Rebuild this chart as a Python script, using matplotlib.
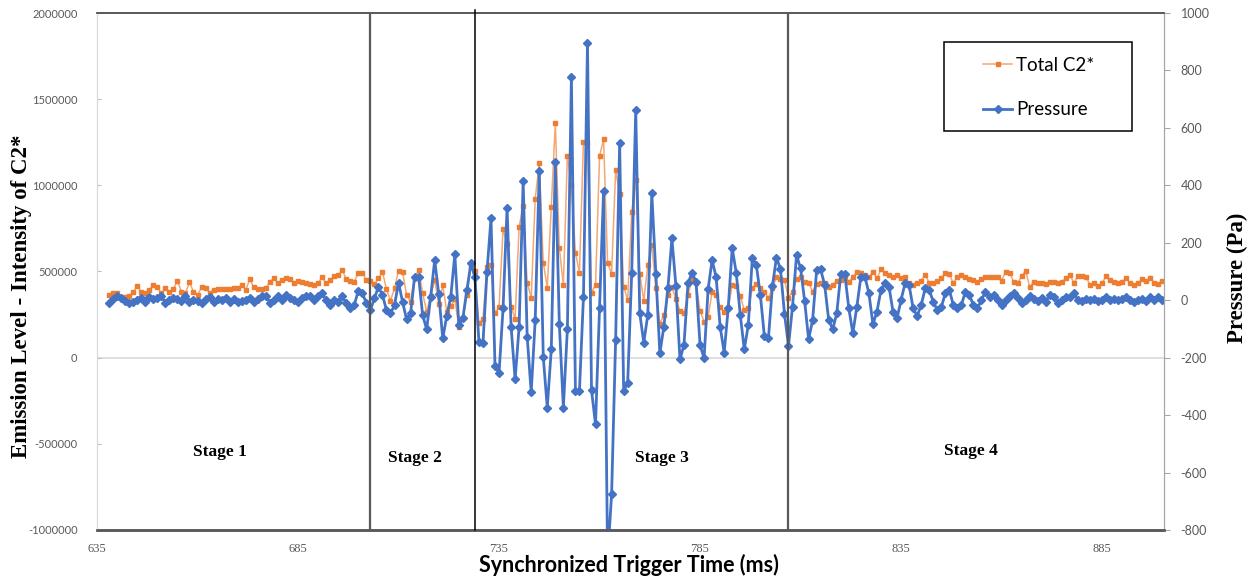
import numpy as np
import matplotlib
matplotlib.use("Agg")
import matplotlib.pyplot as plt
from matplotlib.lines import Line2D
from matplotlib.patches import Rectangle

# ---------------------------
# Datos (1 muestra por ms, desde 638 ms)
# ---------------------------
t_start = 638

c2_total = [
    364000, 374000, 377000, 354000, 354000, 358000, 383000, 416000, 383000, 374000,
    393000, 422000, 412000, 374000, 403000, 383000, 397000, 447000, 383000, 374000,
    437000, 383000, 364000, 408000, 403000, 377000, 393000, 397000, 397000, 397000,
    397000, 403000, 403000, 422000, 393000, 455000, 408000, 397000, 397000, 403000,
    441000, 461000, 432000, 451000, 461000, 455000, 435000, 447000, 441000, 432000,
    428000, 422000, 432000, 466000, 432000, 451000, 474000, 480000, 509000, 455000,
    447000, 441000, 490000, 493000, 451000, 446000, 425000, 460000, 499000, 396000,
    331000, 402000, 505000, 499000, 364000, 325000, 460000, 509000, 373000, 267000,
    358000, 451000, 311000, 420000, 267000, 300000, 338000, 180000, 228000, 364000,
    528000, 500000, 199000, 223000, 524000, 538000, 257000, 292000, 745000, 660000,
    296000, 227000, 760000, 880000, 435000, 348000, 923000, 1128000, 551000, 406000,
    876000, 1364000, 635000, 422000, 1170000, 1000000, 610000, 493000, 1253000, 1248000,
    377000, 422000, 1170000, 1267000, 551000, 486000, 1089000, 950000, 412000, 335000,
    845000, 1031000, 488000, 331000, 538000, 654000, 403000, 196000, 248000, 364000,
    408000, 339000, 273000, 257000, 364000, 455000, 431000, 273000, 209000, 234000,
    383000, 364000, 292000, 267000, 286000, 422000, 416000, 358000, 277000, 286000,
    403000, 428000, 403000, 383000, 345000, 403000, 466000, 457000, 449000, 349000,
    383000, 455000, 470000, 441000, 435000, 383000, 427000, 435000, 431000, 412000,
    422000, 447000, 451000, 460000, 441000, 466000, 499000, 489000, 480000, 466000,
    499000, 460000, 512000, 489000, 480000, 470000, 480000, 460000, 470000, 431000,
    422000, 431000, 447000, 480000, 435000, 431000, 447000, 460000, 493000, 485000,
    431000, 470000, 480000, 466000, 454000, 451000, 441000, 454000, 466000, 470000,
    470000, 466000, 447000, 499000, 493000, 441000, 432000, 474000, 505000, 408000,
    441000, 432000, 435000, 428000, 441000, 437000, 435000, 441000, 461000, 480000,
    432000, 474000, 474000, 470000, 422000, 435000, 416000, 432000, 474000, 451000,
    441000, 435000, 441000, 461000, 432000, 422000, 435000, 455000, 447000, 461000,
    435000, 428000, 447000,
]

pressure = [
    -8, 3, 13, 7, -1, -8, -5, 1, 7, -5,
    10, 3, 8, 13, -8, 1, 7, 3, -1, 13,
    -5, 1, -3, -8, 3, 10, -5, 4, 1, 7,
    -5, 3, -5, -1, 1, 7, -5, 3, 13, 15,
    -8, 1, 13, 1, 18, 7, 1, -5, 7, 15,
    13, 1, 13, 24, 1, -16, 1, -5, 13, -10,
    -28, -16, 33, 24, -10, -34, 6, 47, 18, -34,
    -46, -17, 61, -5, -67, -46, 82, 82, -52, -101,
    12, 140, 22, -133, -55, 12, 160, -86, -63, 35,
    128, 80, -144, -150, 99, 285, -229, -255, -28, 322,
    -92, -276, -92, 415, -127, -321, -69, 449, -197, -374,
    -170, 480, -84, -374, -100, 778, -315, -315, 12, 897,
    -313, -432, -28, 380, -900, -676, -139, 548, -316, -287,
    94, 662, -45, -148, -51, 372, 90, -185, -92, 41,
    215, 49, -206, -156, 59, 96, 65, -156, -202, 38,
    140, 80, -92, -183, -28, 181, 96, -51, -171, -86,
    148, 122, 18, -125, -133, 49, 148, 109, -47, -159,
    -22, 157, 111, -1, -136, -69, 105, 107, 53, -69,
    -101, -46, 91, 91, -28, -115, -23, 82, 82, 24,
    -83, -40, 36, 59, 47, -40, -63, 1, 59, 53,
    -28, -55, -17, 41, 36, -5, -34, -25, 24, 36,
    -17, -28, -17, 30, 18, -17, -28, 1, 30, 12,
    18, 1, -16, 1, 15, 24, 7, -8, 1, 15,
    3, -1, 7, -5, 18, 12, -8, 1, 12, 12,
    24, 1, -1, 3, 1, 3, -1, 1, 10, 1,
    3, 1, 3, 12, 1, -5, 1, 3, -1, 12,
    1, 10, 1,
]

time_ms = np.arange(t_start, t_start + len(c2_total))

stage_bounds = [703, 729, 807]
stage_names = ["Stage 1", "Stage 2", "Stage 3", "Stage 4"]
stage_x = [665.5, 714, 775.5, 852.5]
stage_y = [-545000, -585000, -580000, -540000]

x_ticks = [635, 685, 735, 785, 835, 885]
left_ticks = [-1000000, -500000, 0, 500000, 1000000, 1500000, 2000000]
right_ticks = [-800, -600, -400, -200, 0, 200, 400, 600, 800, 1000]

# ---------------------------
# Figura
# ---------------------------
W, H = 1251, 580
fig = plt.figure(figsize=(W / 100, H / 100), dpi=100)
ax = fig.add_axes([97 / W, 50 / H, (1164 - 97) / W, (530 - 13) / H])
ax2 = ax.twinx()

c_orange = "#ED7D31"
c_blue = "#4472C4"
grey = "#595959"

ax.axhline(0, color="#D9D9D9", linewidth=1.2, zorder=0)

ax.plot(time_ms, c2_total, color="#F4A772", linewidth=1.1,
        marker="s", markersize=3, markerfacecolor=c_orange,
        markeredgecolor=c_orange, zorder=2)

ax2.plot(time_ms, pressure, color=c_blue, linewidth=2.0,
         marker="D", markersize=4.2, markerfacecolor=c_blue,
         markeredgecolor=c_blue, zorder=2)

# lineas de etapas
ax2.axvline(stage_bounds[0], color=grey, linewidth=1.6, zorder=3)
ax2.axvline(stage_bounds[1], ymin=0, ymax=1.005, color="black",
            linewidth=1.1, zorder=3, clip_on=False)
ax2.axvline(stage_bounds[2], color=grey, linewidth=1.6, zorder=3)

for name, sx, sy in zip(stage_names, stage_x, stage_y):
    ax.text(sx, sy, name, ha="center", va="center",
            family="Liberation Serif", fontweight="bold", fontsize=12.5)

# ---------------------------
# Ejes
# ---------------------------
ax.set_xlim(635, 900.4)
ax.set_ylim(-1000000, 2000000)
ax2.set_ylim(-800, 1000)

ax.set_xticks(x_ticks)
ax.set_xticklabels([str(v) for v in x_ticks], family="Liberation Serif",
                   fontsize=9, color=grey)
ax.set_yticks(left_ticks)
ax.set_yticklabels([str(v) for v in left_ticks], family="Lato",
                   fontsize=8, color=grey)
ax2.set_yticks(right_ticks)
ax2.set_yticklabels([str(v) for v in right_ticks], family="Lato",
                    fontsize=9, color=grey)

ax.tick_params(axis="x", length=0, pad=9)
ax.tick_params(axis="y", direction="in", length=3, color="#BFBFBF", pad=14)
ax2.tick_params(axis="y", direction="out", length=4, color="#A6A6A6", pad=8)

for a in (ax, ax2):
    a.spines["left"].set_color("#D9D9D9")
    a.spines["right"].set_color("#A6A6A6")
    a.spines["top"].set_color(grey)
    a.spines["top"].set_linewidth(1.2)
    a.spines["bottom"].set_color(grey)
    a.spines["bottom"].set_linewidth(1.8)

# titulos de ejes
fig.text(22 / W, 1 - 296 / H, "Emission Level - Intensity of C2*",
         rotation=90, ha="center", va="center",
         family="Liberation Serif", fontweight="bold", fontsize=16.5)
fig.text(1237 / W, 1 - 278 / H, "Pressure (Pa)",
         rotation=90, ha="center", va="center",
         family="Liberation Serif", fontweight="bold", fontsize=16.5)
fig.text(629 / W, 1 - 565 / H, "Synchronized Trigger Time (ms)",
         ha="center", va="center", family="Lato", fontweight="bold",
         fontsize=15.5)

# ---------------------------
# Leyenda
# ---------------------------
box = Rectangle((944 / W, 1 - 131 / H), (1132 - 944) / W, 89 / H,
                transform=fig.transFigure, facecolor="white",
                edgecolor="black", linewidth=1.1, zorder=5)
fig.patches.append(box)

handles = [
    Line2D([], [], color="#F4A772", linewidth=1.1, marker="s", markersize=3,
           markerfacecolor=c_orange, markeredgecolor=c_orange),
    Line2D([], [], color=c_blue, linewidth=2.0, marker="D", markersize=4.2,
           markerfacecolor=c_blue, markeredgecolor=c_blue),
]
leg = fig.legend(handles, ["Total C2*", "Pressure"], loc="upper left",
                 bbox_to_anchor=(983 / W, 1 - 57 / H), frameon=False,
                 prop={"family": "Lato", "size": 13.5},
                 handlelength=1.55, handletextpad=0.2, labelspacing=1.45,
                 borderpad=0, borderaxespad=0)
leg.set_zorder(6)

fig.savefig("out.png", dpi=100)
